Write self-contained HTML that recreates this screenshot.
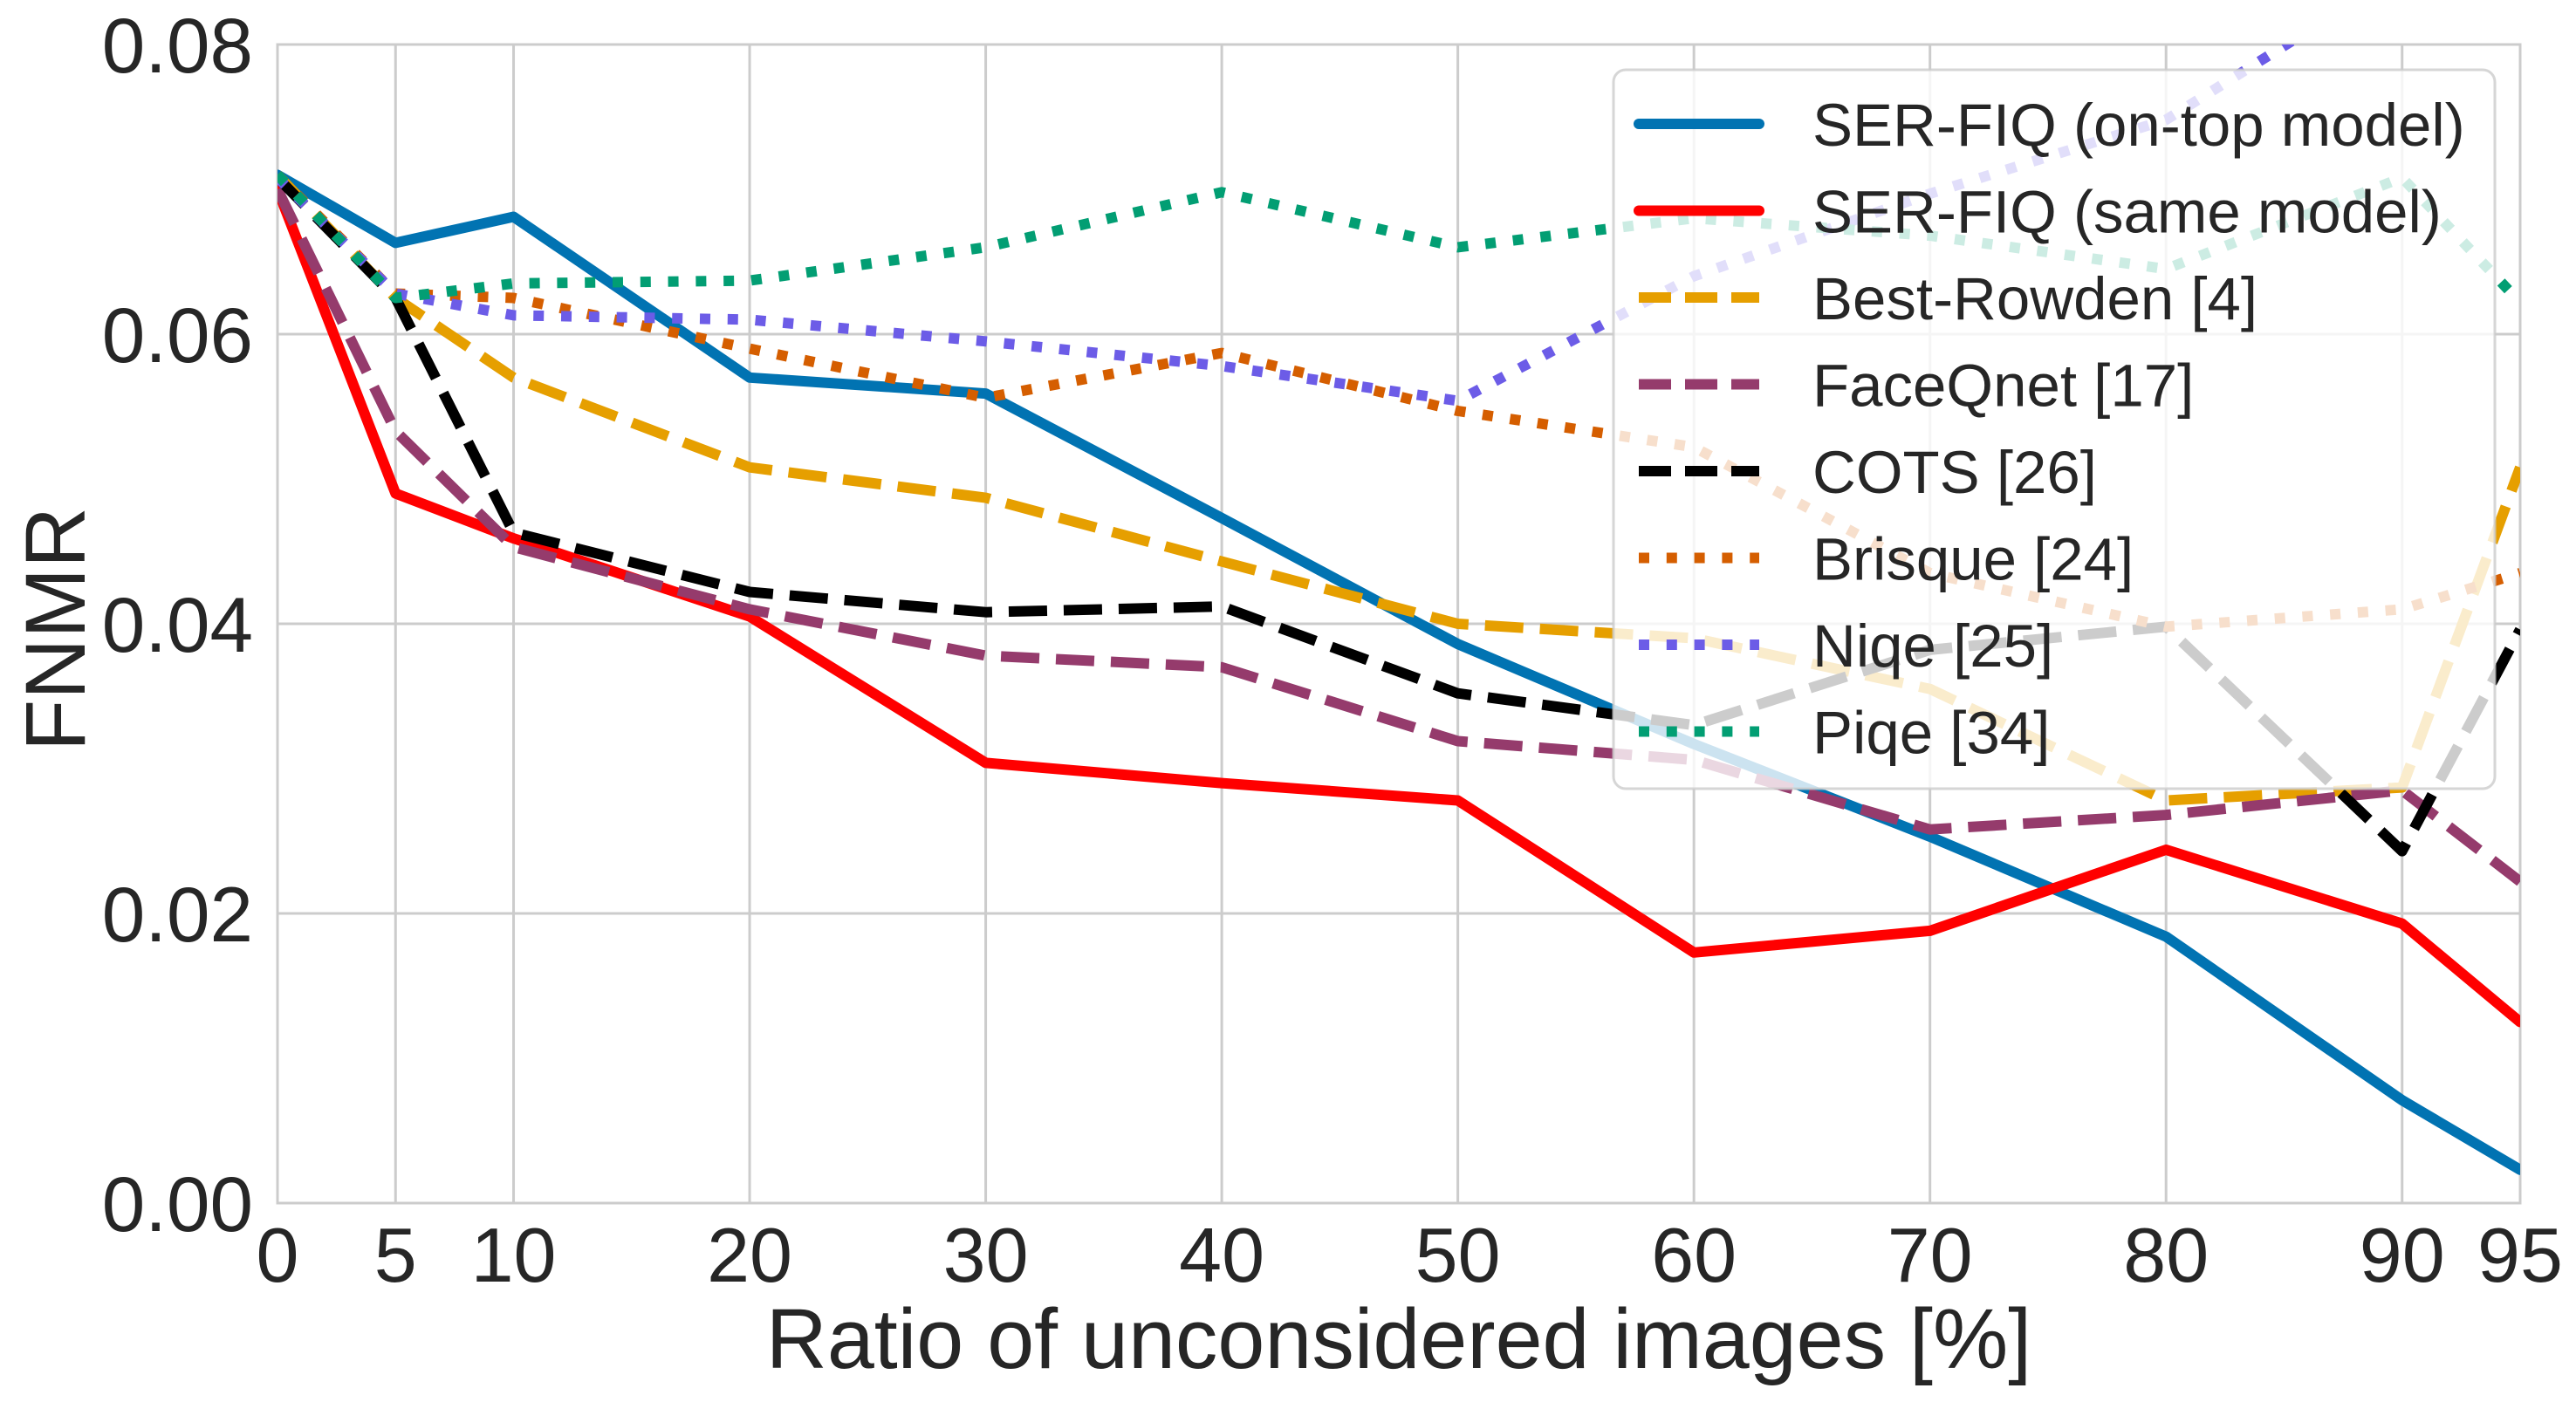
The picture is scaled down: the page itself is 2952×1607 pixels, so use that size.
<!DOCTYPE html>
<html><head><meta charset="utf-8"><style>
html,body{margin:0;padding:0;background:#fff;}
svg{display:block;font-family:"Liberation Sans",Arial,sans-serif;}
</style></head><body>
<svg id="chart" width="2952" height="1607" viewBox="0 0 2952 1607" xmlns="http://www.w3.org/2000/svg">
<defs><clipPath id="plotclip"><rect x="318" y="51" width="2570" height="1328"/></clipPath></defs>
<g id="grid"></g>
<g id="series" clip-path="url(#plotclip)"></g>
<g id="ticks"></g>
<text x="1603" y="1568" font-size="97" fill="#262626" text-anchor="middle">Ratio of unconsidered images [%]</text>
<text x="97" y="721" font-size="97" fill="#262626" text-anchor="middle" transform="rotate(-90 97 721)">FNMR</text>
<g id="legend"></g>
</svg>
<script>
const xCats = [0,5,10,20,30,40,50,60,70,80,90,95];
const xTickLabels = ["0","5","10","20","30","40","50","60","70","80","90","95"];
const yTicks = [0,0.02,0.04,0.06,0.08];
const yTickLabels = ["0.00","0.02","0.04","0.06","0.08"];
const seriesNames = ["SER-FIQ (on-top model)","SER-FIQ (same model)","Best-Rowden [4]","FaceQnet [17]","COTS [26]","Brisque [24]","Niqe [25]","Piqe [34]"];
const serfiqOnTop = [0.0710,0.0663,0.0681,0.0570,0.0559,0.0473,0.0386,0.0317,0.0253,0.0184,0.0071,0.0023];
const serfiqSame = [0.0700,0.0490,0.0459,0.0405,0.0304,0.0290,0.0278,0.0173,0.0188,0.0244,0.0193,0.0125];
const bestRowden = [0.0710,0.0625,0.0570,0.0508,0.0487,0.0443,0.0400,0.0390,0.0355,0.0278,0.0287,0.0508];
const faceQnet = [0.0700,0.0533,0.0453,0.0410,0.0378,0.0370,0.0319,0.0306,0.0258,0.0268,0.0285,0.0222];
const cots = [0.0708,0.0625,0.0463,0.0422,0.0408,0.0412,0.0352,0.0330,0.0382,0.0398,0.0243,0.0396];
const brisque = [0.0710,0.0628,0.0625,0.0590,0.0556,0.0587,0.0547,0.0522,0.0435,0.0398,0.0410,0.0435];
const niqe = [0.0708,0.0628,0.0613,0.0610,0.0595,0.0578,0.0554,0.0640,0.0697,0.0748,0.0850,0.0900];
const piqe = [0.0710,0.0625,0.0635,0.0637,0.0660,0.0698,0.0660,0.0680,0.0668,0.0645,0.0708,0.0622];

const NS="http://www.w3.org/2000/svg";
const L=318,R=2888,T=51,B=1379;
const xS=v=>L+(v-0)/(95-0)*(R-L);
const yS=v=>B-(v/0.08)*(B-T);
function mk(tag,attrs,parent){const e=document.createElementNS(NS,tag);for(const k in attrs)e.setAttribute(k,attrs[k]);parent.appendChild(e);return e;}

const grid=document.getElementById('grid');
xCats.forEach(v=>{const l=mk('line',{x1:xS(v),x2:xS(v),y1:T,y2:B,stroke:'#cccccc','stroke-width':3},grid);

});
yTicks.forEach(v=>{const l=mk('line',{x1:L,x2:R,y1:yS(v),y2:yS(v),stroke:'#cccccc','stroke-width':3},grid);

});
const fr=mk('rect',{x:L,y:T,width:R-L,height:B-T,fill:'none',stroke:'#cccccc','stroke-width':3},grid);



const ticks=document.getElementById('ticks');
xCats.forEach((v,i)=>{const t=mk('text',{x:xS(v),y:1469,'font-size':88,fill:'#262626','text-anchor':'middle'},ticks);t.textContent=xTickLabels[i];

});
yTicks.forEach((v,i)=>{const t=mk('text',{x:290,y:yS(v)+32,'font-size':89,fill:'#262626','text-anchor':'end'},ticks);t.textContent=yTickLabels[i];

});

const allData=[serfiqOnTop,serfiqSame,bestRowden,faceQnet,cots,brisque,niqe,piqe];
const colors=['#0173b2','#ff0000','#e69f00','#953b6c','#000000','#d55e00','#6c5ce7','#029e73'];
const dashes=['none','none','44 19','44 19','44 19','12 19.8','12 19.8','12 19.8'];
const keys=['serfiq-on-top','serfiq-same','best-rowden','faceqnet','cots','brisque','niqe','piqe'];
const sg=document.getElementById('series');
allData.forEach((d,i)=>{
  const pts=d.map((v,j)=>xS(xCats[j]).toFixed(1)+','+yS(v).toFixed(1)).join(' ');
  const p=mk('polyline',{points:pts,fill:'none',stroke:colors[i],'stroke-width':12,'stroke-dasharray':dashes[i],'stroke-linecap':dashes[i]==='none'?'round':'butt','stroke-linejoin':'round'},sg);
  
  
});

const lg=document.getElementById('legend');
const bx=mk('rect',{x:1849,y:80,width:1010,height:824,rx:14,fill:'#ffffff','fill-opacity':0.8,stroke:'#cccccc','stroke-opacity':0.8,'stroke-width':3},lg);


seriesNames.forEach((n,i)=>{
  const y=142+i*99.5;
  const g=mk('g',{},lg);
  
  
  mk('line',{x1:1878,x2:2016,y1:y,y2:y,stroke:colors[i],'stroke-width':12,'stroke-dasharray':dashes[i]==='none'?'none':(i<5?'37 16':'12 19.8'),'stroke-linecap':dashes[i]==='none'?'round':'butt'},g);
  const t=mk('text',{x:2077,y:y+25,'font-size':69,fill:'#262626'},g);t.textContent=n;
});
</script>
</body></html>
